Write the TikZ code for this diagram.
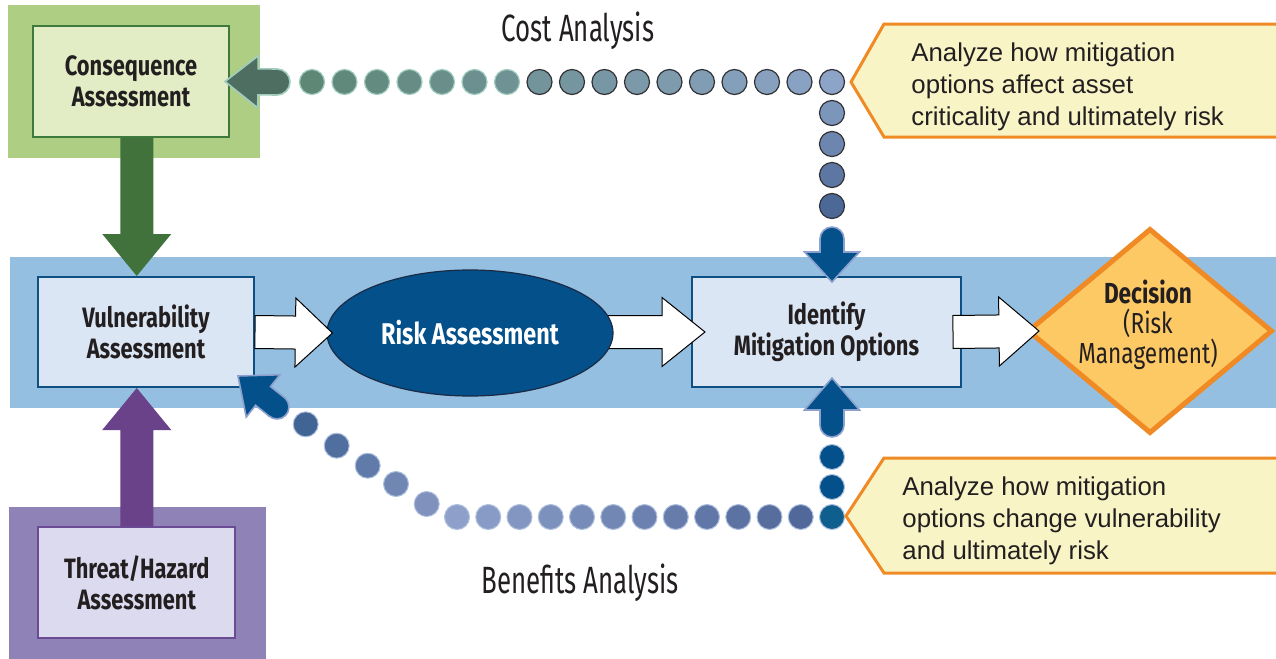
\documentclass[tikz,border=0pt]{standalone}
\usepackage{fontspec}
\setmainfont{Liberation Sans}
\newfontfamily\labelfont[FakeStretch=0.78]{Fira Sans}
\newfontfamily\titlefont[FakeStretch=0.68]{Fira Sans}
\usepackage{xcolor}
\usetikzlibrary{calc,positioning,shapes.geometric}
\definecolor{bandblue}{RGB}{149,191,224}
\definecolor{greenouter}{RGB}{174,206,132}
\definecolor{greeninner}{RGB}{227,237,197}
\definecolor{greenline}{RGB}{62,122,59}
\definecolor{greenarrow}{RGB}{65,114,60}
\definecolor{boxblue}{RGB}{218,230,244}
\definecolor{boxline}{RGB}{13,79,130}
\definecolor{purpleouter}{RGB}{143,130,182}
\definecolor{purpleinner}{RGB}{220,218,238}
\definecolor{purpleline}{RGB}{107,76,148}
\definecolor{purplearrow}{RGB}{106,66,137}
\definecolor{riskblue}{RGB}{3,80,138}
\definecolor{riskline}{RGB}{27,43,69}
\definecolor{decisionfill}{RGB}{253,201,101}
\definecolor{orangeline}{RGB}{240,138,36}
\definecolor{notefill}{RGB}{248,244,198}
\definecolor{textdark}{RGB}{35,31,32}
\definecolor{costA}{RGB}{94,135,118}
\definecolor{costB}{RGB}{140,164,200}
\definecolor{costC}{RGB}{76,104,150}
\definecolor{costrimlight}{RGB}{160,205,190}
\definecolor{costrimdark}{RGB}{50,50,55}
\definecolor{costarrow}{RGB}{78,110,98}
\definecolor{benA}{RGB}{80,104,154}
\definecolor{benB}{RGB}{142,160,202}
\definecolor{bencorner}{RGB}{14,94,142}
\definecolor{bendiagA}{RGB}{128,145,190}
\definecolor{bendiagB}{RGB}{64,100,148}
\definecolor{benrim}{RGB}{175,192,222}
\definecolor{bluearrow}{RGB}{3,80,138}
\definecolor{bluerim}{RGB}{140,160,205}
% block arrow: style, tail, tip, half shaft, half head, head length
\newcommand{\fatarrow}[6]{%
  \coordinate (fahead) at ($(#3)!#6!(#2)$);
  \path[#1] ($(#2)!#4!90:(#3)$) -- ($(fahead)!#4!90:(#3)$) -- ($(fahead)!#5!90:(#3)$) -- (#3)
    -- ($(fahead)!#5!-90:(#3)$) -- ($(fahead)!#4!-90:(#3)$) -- ($(#2)!#4!-90:(#3)$) -- cycle;}
% same with a rounded tail
\newcommand{\roundarrow}[6]{%
  \coordinate (fahead) at ($(#3)!#6!(#2)$);
  \path[#1] (#2) circle[radius=#4];
  \path[#1] ($(#2)!#4!90:(#3)$) -- ($(fahead)!#4!90:(#3)$) -- ($(fahead)!#5!90:(#3)$) -- (#3)
    -- ($(fahead)!#5!-90:(#3)$) -- ($(fahead)!#4!-90:(#3)$) -- ($(#2)!#4!-90:(#3)$);}

\begin{document}
\begin{tikzpicture}[x=0.5pt, y=-0.5pt,
        box/.style={rectangle, draw, line width=1pt, inner sep=0pt, align=center, text=textdark,
            font=\labelfont\bfseries\fontsize{14pt}{15.5pt}\selectfont},
        whitearrow/.style={fill=white, draw=black, line width=0.5pt, line join=miter},
        notebox/.style={fill=notefill, draw=orangeline, line width=1.5pt, line join=miter},
        notetext/.style={inner sep=0pt, align=left, text=textdark, font=\fontsize{12.9pt}{16pt}\selectfont},
        trailtitle/.style={inner sep=0pt, text=textdark, font=\titlefont\fontsize{19pt}{21pt}\selectfont},
        costdot/.style={line width=0.6pt},
        bendot/.style={draw=benrim, line width=0.5pt}
    ]
        \path[use as bounding box, fill=white] (0,0) rectangle (1276,659);

        % background band and frames
        \fill[bandblue] (10,257) rectangle (1276,408);
        \fill[greenouter] (8,5) rectangle (260,158);
        \fill[purpleouter] (9,507) rectangle (266,659);

        \node[box, fill=greeninner, draw=greenline, minimum width=98pt, minimum height=55.5pt] (cons) at (131,81.5) {Consequence\\Assessment};
        \node[box, fill=boxblue, draw=boxline, minimum width=108pt, minimum height=55pt] (vuln) at (146,332) {Vulnerability\\Assessment};
        \node[box, fill=purpleinner, draw=purpleline, minimum width=98.5pt, minimum height=55.5pt] (threat) at (136.75,582.5) {Threat/Hazard\\Assessment};
        \node[box, fill=boxblue, draw=boxline, minimum width=134.5pt, minimum height=55pt] (ident) at (826.5,332) {Identify\\Mitigation Options};
        \node[diamond, fill=decisionfill, draw=orangeline, line width=2.5pt, inner sep=0pt, minimum width=122.5pt, minimum height=102.5pt] (decision) at (1150,331) {};
        \node[align=center, inner sep=0pt, text=textdark, font=\labelfont\fontsize{14.5pt}{15pt}\selectfont] (decisiontext)
            at ($(decision.center)+(-2,-6)$) {\textbf{Decision}\\(Risk\\Management)};

        % main flow
        \coordinate (identtip) at ($(ident.west)+(14,0)$);
        \fatarrow{whitearrow}{560,332}{identtip}{8.25pt}{17.25pt}{21.5pt}
        \coordinate (identtail) at ($(ident.east)+(-9,0)$);
        \coordinate (decisiontip) at ($(decision.west)+(14,0)$);
        \fatarrow{whitearrow}{identtail}{decisiontip}{8.25pt}{17.25pt}{20pt}
        \node[ellipse, fill=riskblue, draw=riskline, line width=0.6pt, inner sep=0pt, minimum width=143pt, minimum height=63pt,
            text=white, font=\labelfont\bfseries\fontsize{15pt}{16pt}\selectfont] (risk) at (470,333) {Risk Assessment};
        \coordinate (risktip) at ($(risk.west)+(6,0)$);
        \fatarrow{whitearrow}{vuln.east}{risktip}{8.25pt}{17.25pt}{18.5pt}

        \fatarrow{fill=greenarrow}{cons.south -| threat.north}{vuln.north -| threat.north}{8.25pt}{17.25pt}{21pt}
        \fatarrow{fill=purplearrow}{threat.north}{vuln.south -| threat.north}{8.25pt}{17.25pt}{21pt}

        % cost analysis trail
        \coordinate (costcorner) at (832,82);
        \foreach \i in {0,...,16}{
            \pgfmathsetmacro{\p}{100-6.25*\i}
            \ifnum\i>9 \def\rim{costrimlight}\else\def\rim{costrimdark}\fi
            \filldraw[costdot, fill=costB!\p!costA, draw=\rim] ($(costcorner)+(-32.5*\i,0)$) circle[radius=6.25pt];
        }
        \foreach \j in {1,...,4}{
            \pgfmathsetmacro{\p}{25*\j}
            \filldraw[costdot, fill=costC!\p!costB, draw=costrimdark] ($(costcorner)+(0,31*\j)$) circle[radius=6.25pt];
        }
        \coordinate (costtail) at (277,82);
        \coordinate (costtip) at ($(cons.east)+(-5,0)$);
        \roundarrow{fill=costarrow, draw=costrimlight, line width=0.8pt}{costtail}{costtip}{6.5pt}{13pt}{16.5pt}
        \coordinate (costdown) at (832,239);
        \coordinate (costdowntip) at ($(ident.north -| costcorner)+(0,6)$);
        \roundarrow{fill=bluearrow, draw=bluerim, line width=0.8pt}{costdown}{costdowntip}{6pt}{13.75pt}{15pt}

        % benefits analysis trail
        \coordinate (bencorner) at (832,517);
        \filldraw[bendot, fill=bencorner] (bencorner) circle[radius=6.25pt];
        \foreach \i in {1,...,12}{
            \pgfmathsetmacro{\p}{100*(\i-1)/11}
            \filldraw[bendot, fill=benB!\p!benA] ($(bencorner)+(-31.25*\i,0)$) circle[radius=6.25pt];
        }
        \foreach \pt [count=\k from 0] in {(426.7,504),(396,484),(367.7,465.7),(336.7,445.7),(305.7,424.3)}{
            \pgfmathsetmacro{\p}{25*\k}
            \filldraw[bendot, fill=bendiagB!\p!bendiagA] \pt circle[radius=6.25pt];
        }
        \foreach \j in {1,2}
            \filldraw[bendot, fill=bluearrow] ($(bencorner)+(0,-30*\j)$) circle[radius=6.25pt];
        \coordinate (bentail) at (277,407);
        \coordinate (bentip) at ($(vuln.south east)+(-17,-12)$);
        \roundarrow{fill=bluearrow, draw=bluerim, line width=0.8pt}{bentail}{bentip}{6pt}{13.5pt}{16pt}
        \coordinate (benup) at (832,425);
        \coordinate (benuptip) at ($(ident.south -| bencorner)+(0,-10)$);
        \roundarrow{fill=bluearrow, draw=bluerim, line width=0.8pt}{benup}{benuptip}{6pt}{13.75pt}{16pt}

        % notes
        \draw[notebox] (851,82) -- (884,24) -- (1290,24) -- (1290,137) -- (884,137) -- cycle;
        \node[notetext, anchor=west] (costnote) at (911,87) {Analyze how mitigation\\options affect asset\\criticality and ultimately risk};
        \draw[notebox] (846,516) -- (884,458) -- (1290,458) -- (1290,573) -- (884,573) -- cycle;
        \node[notetext, anchor=west] (bennote) at (902,521) {Analyze how mitigation\\options change vulnerability\\and ultimately risk};

        \node[trailtitle] (costlabel) at (578,31) {Cost Analysis};
        \node[trailtitle] (benlabel) at (580,583) {Benefits Analysis};
    \end{tikzpicture}
\end{document}
